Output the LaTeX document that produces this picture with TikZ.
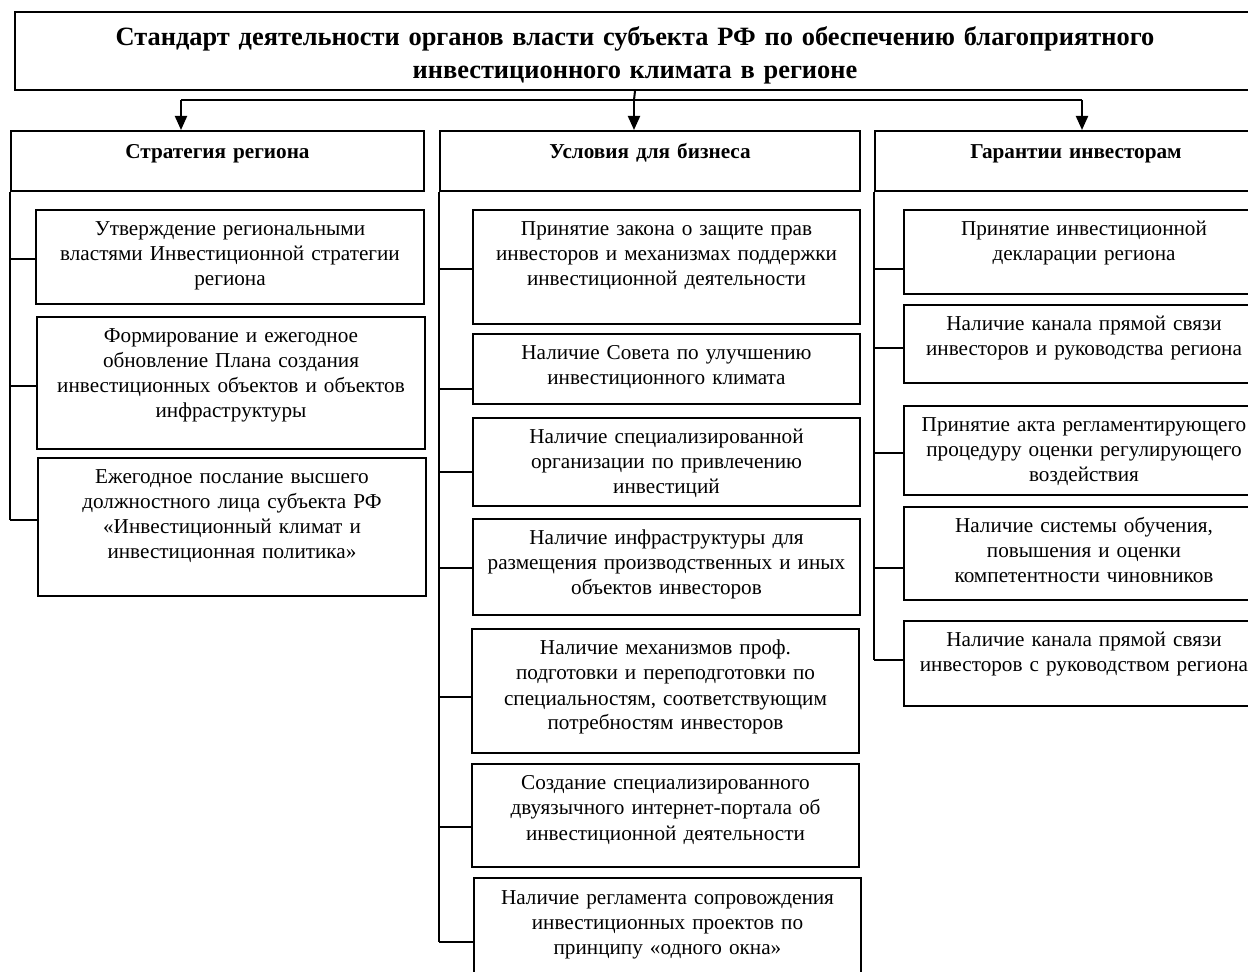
\documentclass[tikz,border=0pt]{standalone}
\usepackage{fontspec}
\setmainfont{Liberation Serif}
\usetikzlibrary{arrows.meta}
\tikzset{
  box/.style={draw, line width=1pt, anchor=north west, align=center, inner xsep=0pt, inner ysep=0pt, text height=13pt, font=\fontsize{10.6}{12.5}\selectfont},
  lbox/.style={box, text width=194pt},
  mbox/.style={box, text width=193.5pt},
  rbox/.style={box, text width=180pt},
  head/.style={box, text height=14pt, text depth=16pt, font=\bfseries\fontsize{10.6}{12.5}\selectfont},
  link/.style={line width=1pt},
  arr/.style={line width=1pt, -{Triangle[width=6pt,length=7pt]}}
}
\begin{document}
\begin{tikzpicture}[x=0.5pt,y=-0.5pt]
		\useasboundingbox (0,0) rectangle (1248,972);
		% title
		\node[box, text width=620pt, text height=17pt, text depth=22pt, font=\bfseries\fontsize{13.2}{16.5}\selectfont] (t) at (14,11) {Стандарт деятельности органов власти субъекта РФ по обеспечению благоприятного\\инвестиционного климата в регионе};
		% headers
		\node[head, text width=206.5pt] (hl) at (10,130) {Стратегия региона};
		\node[head, text width=210pt] (hm) at (439,130) {Условия для бизнеса};
		\node[head, text width=201pt] (hr) at (874,130) {Гарантии инвесторам};
		\coordinate (bar) at (634,100);
		\coordinate (bl) at (181,100);
		\coordinate (br) at (1082,100);
		\draw[link] (t.south) -- (bar);
		\draw[link] (bl) -- (br);
		\draw[arr] (bl) -- (bl |- hl.north);
		\draw[arr] (bar) -- (bar |- hm.north);
		\draw[arr] (br) -- (br |- hr.north);
		% left column
		\node[lbox, text depth=34pt] (l1) at (35,209) {Утверждение региональными\\властями Инвестиционной стратегии\\региона};
		\node[lbox, text depth=53pt] (l2) at (36,316) {Формирование и ежегодное\\обновление Плана создания\\инвестиционных объектов и объектов\\инфраструктуры};
		\node[lbox, text depth=56pt] (l3) at (37,457) {Ежегодное послание высшего\\должностного лица субъекта РФ\\«Инвестиционный климат и\\инвестиционная политика»};
		\draw[link] (hl.south west) -- (hl.south west |- 0,520);
		\draw[link] (hl.south west |- 0,259) -- (l1.west |- 0,259);
		\draw[link] (hl.south west |- 0,386) -- (l2.west |- 0,386);
		\draw[link] (hl.south west |- 0,520) -- (l3.west |- 0,520);
		% middle column
		\node[mbox, text depth=44pt] (m1) at (472,209) {Принятие закона о защите прав\\инвесторов и механизмах поддержки\\инвестиционной деятельности};
		\node[mbox, text depth=22pt] (m2) at (472,333) {Наличие Совета по улучшению\\инвестиционного климата};
		\node[mbox, text depth=31pt] (m3) at (472,417) {Наличие специализированной\\организации по привлечению\\инвестиций};
		\node[mbox, text depth=35pt] (m4) at (472,518) {Наличие инфраструктуры для\\размещения производственных и иных\\объектов инвесторов};
		\node[mbox, text depth=49pt] (m5) at (471,628) {Наличие механизмов проф.\\подготовки и переподготовки по\\специальностям, соответствующим\\потребностям инвесторов};
		\node[mbox, text depth=38.5pt] (m6) at (471,763) {Создание специализированного\\двуязычного интернет-портала об\\инвестиционной деятельности};
		\node[mbox, text depth=41pt] (m7) at (473,877) {Наличие регламента сопровождения\\инвестиционных проектов по\\принципу «одного окна»};
		\draw[link] (hm.south west) -- (hm.south west |- 0,942);
		\draw[link] (hm.south west |- 0,269) -- (m1.west |- 0,269);
		\draw[link] (hm.south west |- 0,389) -- (m2.west |- 0,389);
		\draw[link] (hm.south west |- 0,472) -- (m3.west |- 0,472);
		\draw[link] (hm.south west |- 0,568) -- (m4.west |- 0,568);
		\draw[link] (hm.south west |- 0,697) -- (m5.west |- 0,697);
		\draw[link] (hm.south west |- 0,827) -- (m6.west |- 0,827);
		\draw[link] (hm.south west |- 0,942) -- (m7.west |- 0,942);
		% right column
		\node[rbox, text depth=29pt] (r1) at (903,209) {Принятие инвестиционной\\декларации региона};
		\node[rbox, text depth=26pt] (r2) at (903,304) {Наличие канала прямой связи\\инвесторов и руководства региона};
		\node[rbox, text depth=31.5pt] (r3) at (903,405) {Принятие акта регламентирующего\\процедуру оценки регулирующего\\воздействия};
		\node[rbox, text depth=33.5pt] (r4) at (903,506) {Наличие системы обучения,\\повышения и оценки\\компетентности чиновников};
		\node[rbox, text depth=29.5pt] (r5) at (903,620) {Наличие канала прямой связи\\инвесторов с руководством региона};
		\draw[link] (hr.south west) -- (hr.south west |- 0,660);
		\draw[link] (hr.south west |- 0,269) -- (r1.west |- 0,269);
		\draw[link] (hr.south west |- 0,348) -- (r2.west |- 0,348);
		\draw[link] (hr.south west |- 0,453) -- (r3.west |- 0,453);
		\draw[link] (hr.south west |- 0,568) -- (r4.west |- 0,568);
		\draw[link] (hr.south west |- 0,660) -- (r5.west |- 0,660);
		
		\end{tikzpicture}
\end{document}
